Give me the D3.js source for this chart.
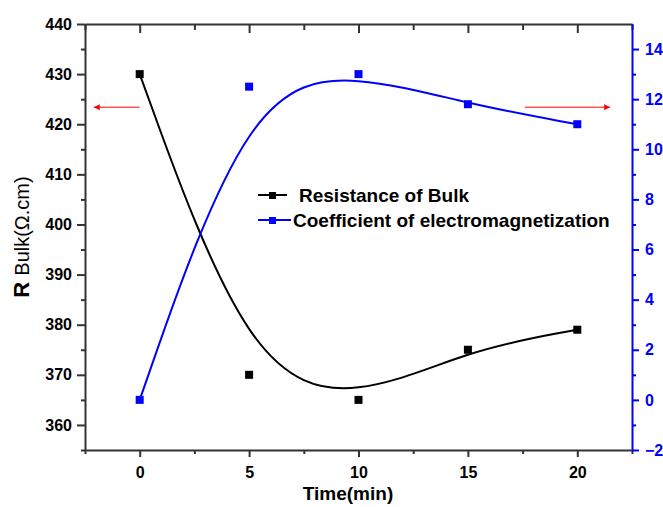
<!DOCTYPE html>
<html>
<head>
<meta charset="utf-8">
<script src="https://cdn.jsdelivr.net/npm/d3@7"></script>
<style>
  body { margin: 0; background: #fff; }
  svg { display: block; font-family: "Liberation Sans", Arial, sans-serif; }
</style>
</head>
<body>
<script>
// data
var time = [0, 5, 10, 15, 20];
var resistance = [430, 370, 365, 375, 379];
var coefficient = [0, 12.5, 13, 11.8, 11];
var seriesNames = ["Resistance of Bulk", "Coefficient of electromagnetization"];

var xTicks = [0, 5, 10, 15, 20];
var leftTicks = [360, 370, 380, 390, 400, 410, 420, 430, 440];
var rightTicks = [-2, 0, 2, 4, 6, 8, 10, 12, 14];

function init() {
    var W = 663, H = 507;
    var left = 85, right = 632, top = 24, bottom = 450;
    var axisCol = "#333";
    var blue = "#0000ff";

    var svg = d3.select("body").append("svg")
        .attr("width", W)
        .attr("height", H);

    var x = d3.scaleLinear().domain([-2.5, 22.5]).range([left, right]);
    var yL = d3.scaleLinear().domain([355, 440]).range([bottom, top]);
    var yR = d3.scaleLinear().domain([-2, 15]).range([bottom, top]);

    // bottom axis
    svg.append("g")
        .attr("transform", "translate(0," + bottom + ")")
        .call(d3.axisBottom(x).tickValues(xTicks).tickSize(7).tickPadding(10).tickSizeOuter(0));
    svg.append("g")
        .attr("transform", "translate(0," + bottom + ")")
        .call(d3.axisBottom(x).tickValues(d3.range(-2.5, 23, 5)).tickSize(4).tickFormat("").tickSizeOuter(0))
        .select(".domain").remove();

    // top axis, ticks pointing inward
    svg.append("g")
        .attr("transform", "translate(0," + top + ")")
        .call(d3.axisBottom(x).tickValues(xTicks).tickSize(9).tickFormat("").tickSizeOuter(0));
    svg.append("g")
        .attr("transform", "translate(0," + top + ")")
        .call(d3.axisBottom(x).tickValues(d3.range(-2.5, 23, 5)).tickSize(6).tickFormat("").tickSizeOuter(0))
        .select(".domain").remove();

    // left axis
    svg.append("g")
        .attr("transform", "translate(" + left + ",0)")
        .call(d3.axisLeft(yL).tickValues(leftTicks).tickSize(8).tickPadding(5).tickSizeOuter(0));
    svg.append("g")
        .attr("transform", "translate(" + left + ",0)")
        .call(d3.axisLeft(yL).tickValues(d3.range(355, 440, 10)).tickSize(4).tickFormat("").tickSizeOuter(0))
        .select(".domain").remove();

    // right axis
    svg.append("g").attr("class", "right")
        .attr("transform", "translate(" + right + ",0)")
        .call(d3.axisRight(yR).tickValues(rightTicks).tickSize(7).tickPadding(6).tickSizeOuter(0));
    svg.append("g").attr("class", "right")
        .attr("transform", "translate(" + right + ",0)")
        .call(d3.axisRight(yR).tickValues(d3.range(-1, 15, 2)).tickSize(4).tickFormat("").tickSizeOuter(0))
        .select(".domain").remove();

    svg.selectAll(".domain, .tick line")
        .attr("stroke", axisCol)
        .attr("stroke-width", 2);
    svg.selectAll(".tick text")
        .attr("fill", "#000")
        .style("font-size", "16px")
        .style("font-weight", "bold");
    svg.selectAll(".right .domain, .right .tick line").attr("stroke", blue);
    svg.selectAll(".right .tick text").attr("fill", blue);

    // curves (B-spline smoothing)
    var lineL = d3.line()
        .x(function(d, i) { return x(time[i]); })
        .y(function(d) { return yL(d); })
        .curve(d3.curveBasis);
    var lineR = d3.line()
        .x(function(d, i) { return x(time[i]); })
        .y(function(d) { return yR(d); })
        .curve(d3.curveBasis);

    svg.append("path")
        .attr("d", lineL(resistance))
        .attr("fill", "none")
        .attr("stroke", "#000")
        .attr("stroke-width", 2);
    svg.append("path")
        .attr("d", lineR(coefficient))
        .attr("fill", "none")
        .attr("stroke", blue)
        .attr("stroke-width", 2);

    var s = 8;
    svg.selectAll(".mk1").data(resistance).enter().append("rect")
        .attr("x", function(d, i) { return x(time[i]) - s / 2; })
        .attr("y", function(d) { return yL(d) - s / 2; })
        .attr("width", s).attr("height", s)
        .attr("fill", "#000");
    svg.selectAll(".mk2").data(coefficient).enter().append("rect")
        .attr("x", function(d, i) { return x(time[i]) - s / 2; })
        .attr("y", function(d) { return yR(d) - s / 2; })
        .attr("width", s).attr("height", s)
        .attr("fill", blue);

    // red arrows pointing to each axis
    var defs = svg.append("defs");
    defs.append("marker")
        .attr("id", "arr")
        .attr("viewBox", "0 0 10 10")
        .attr("refX", 10).attr("refY", 5)
        .attr("markerWidth", 10).attr("markerHeight", 6)
        .attr("markerUnits", "userSpaceOnUse")
        .attr("orient", "auto")
        .append("path").attr("d", "M0,0 L10,5 L0,10 Z").attr("fill", "#ff0000");

    svg.append("line")
        .attr("x1", x(0)).attr("x2", x(-2.1))
        .attr("y1", yL(423.4)).attr("y2", yL(423.4))
        .attr("stroke", "#ff0000").attr("stroke-width", 1)
        .attr("marker-end", "url(#arr)");
    svg.append("line")
        .attr("x1", x(17.6)).attr("x2", x(21.5))
        .attr("y1", yL(423.4)).attr("y2", yL(423.4))
        .attr("stroke", "#ff0000").attr("stroke-width", 1)
        .attr("marker-end", "url(#arr)");

    // legend
    var leg = svg.append("g").attr("transform", "translate(258,195)");
    var rows = [
        { name: seriesNames[0], col: "#000", x2: 29, tx: 41 },
        { name: seriesNames[1], col: blue, x2: 33, tx: 35 }
    ];
    rows.forEach(function(r, i) {
        var g = leg.append("g").attr("transform", "translate(0," + (i * 25) + ")");
        g.append("line").attr("x1", 0).attr("x2", r.x2).attr("y1", 0).attr("y2", 0)
            .attr("stroke", r.col).attr("stroke-width", 2);
        g.append("rect").attr("x", 11).attr("y", -3).attr("width", 7).attr("height", 7)
            .attr("fill", r.col);
        g.append("text").attr("x", r.tx).attr("y", 7)
            .style("font-size", "19px").style("font-weight", "bold")
            .text(r.name);
    });

    // axis titles
    svg.append("text")
        .attr("x", 348).attr("y", 500)
        .attr("text-anchor", "middle")
        .style("font-size", "19px").style("font-weight", "bold")
        .text("Time(min)");

    var yt = svg.append("text")
        .attr("transform", "translate(29,237) rotate(-90)")
        .attr("text-anchor", "middle")
        .style("font-size", "20px");
    yt.append("tspan").style("font-weight", "bold").style("font-size", "22px").text("R ");
    yt.append("tspan").text("Bulk(\u03A9.cm)");
}

window.onload = init;
</script>
</body>
</html>
